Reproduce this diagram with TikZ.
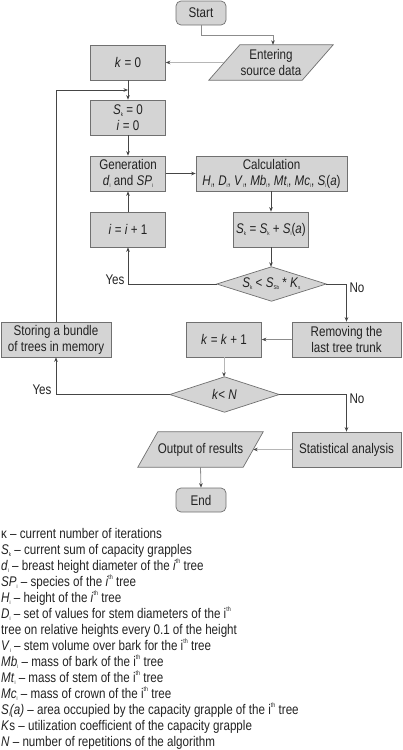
\documentclass[tikz,border=0pt]{standalone}
\usepackage{fontspec}
\setmainfont{Liberation Sans}[FakeStretch=0.83]
\usetikzlibrary{arrows.meta,backgrounds,calc}
\definecolor{boxfill}{HTML}{D4D4D4}
\definecolor{boxline}{HTML}{707070}
\definecolor{darkline}{HTML}{454545}
\definecolor{midline}{HTML}{8C8C8C}
\definecolor{lightline}{HTML}{B6B6B6}
\definecolor{txt}{HTML}{222222}
\newcommand{\sbs}[1]{\raisebox{-0.3ex}{\fontsize{5.5}{5.5}\selectfont #1}}
\newcommand{\ssp}[1]{\raisebox{0.9ex}{\fontsize{6.5}{6.5}\selectfont #1}}
\begin{document}
\begin{tikzpicture}[x=1pt,y=-1pt,
  every node/.style={font=\fontsize{14}{16}\selectfont, text=txt, inner sep=0pt},
  proc/.style={draw=boxline, fill=boxfill, line width=0.7pt, minimum width=75pt, minimum height=35pt, align=center},
  term/.style={proc, rounded corners=5pt, minimum width=50pt, minimum height=24pt},
  dectext/.style={minimum width=109pt, minimum height=34pt, align=center},
  iotext/.style={minimum height=35pt, align=center},
  io/.style={draw=boxline, fill=boxfill, line width=0.7pt},
  arr/.style={line width=0.8pt, draw=darkline, -{Stealth[length=4.5pt,width=3.6pt,color=darkline]}},
  marr/.style={arr, draw=midline},
  larr/.style={arr, draw=lightline},
  lbl/.style={anchor=center},
  leg/.style={anchor=base west}
]
\useasboundingbox (0,0) rectangle (402,750);

% nodes
\node[term] (start) at (201,13) {Start};
\node[iotext, minimum width=93pt] (enter) at (271,62.5) {Entering\\source data};
\node[proc] (k0) at (128,62.5) {\textit{k} = 0};
\node[proc] (sk0) at (128,117.5) {\textit{S}\sbs{k} = 0\\\textit{i} = 0};
\node[proc] (gen) at (128,173.5) {Generation\\\textit{d}\sbs{i} and \textit{SP}\sbs{i}};
\node[proc, minimum width=151pt] (calc) at (271.5,173.5) {Calculation\\\textit{H}\sbs{i}, \textit{D}\sbs{i}, \textit{V}\sbs{i}, \textit{Mb}\sbs{i}, \textit{Mt}\sbs{i}, \textit{Mc}\sbs{i}, \textit{S}\sbs{i}(\textit{a})};
\node[proc] (ii) at (128,229.5) {\textit{i} = \textit{i} + 1};
\node[proc] (sksum) at (271,229.5) {\textit{S}\sbs{k} = \textit{S}\sbs{k} + \textit{S}\sbs{i}(\textit{a})};
\node[dectext] (d1) at (271.5,284) {\textit{S}\sbs{k} < \textit{S}\sbs{Sb} * \textit{K}\sbs{s}};
\node[proc, minimum width=109pt] (remove) at (346.5,339.5) {Removing the\\last tree trunk};
\node[proc] (kk) at (224,339.5) {\textit{k} = \textit{k} + 1};
\node[proc, minimum width=110pt] (store) at (56,339.5) {Storing a bundle\\of trees in memory};
\node[dectext, minimum height=35pt] (d2) at (224.5,394.5) {\textit{k}< \textit{N}};
\node[proc, minimum width=109pt] (stat) at (346.5,449.5) {Statistical analysis};
\node[iotext, minimum width=105pt] (out) at (200.5,449.5) {Output of results};
\node[term] (end) at (201,500) {End};

\begin{scope}[on background layer]
  \path[io] ($(enter.north west)+(15.5,0)$) -- ($(enter.north east)+(15.5,0)$) -- ($(enter.south east)+(-15.5,0)$) -- ($(enter.south west)+(-15.5,0)$) -- cycle;
  \path[io] ($(out.north west)+(10,0)$) -- ($(out.north east)+(10,0)$) -- ($(out.south east)+(-10,0)$) -- ($(out.south west)+(-10,0)$) -- cycle;
  \path[io] (d1.north) -- (d1.east) -- (d1.south) -- (d1.west) -- cycle;
  \path[io] (d2.north) -- (d2.east) -- (d2.south) -- (d2.west) -- cycle;
\end{scope}

% labels
\node[lbl] (y1) at (115,280) {Yes};
\node[lbl] (n1) at (357,288) {No};
\node[lbl] (y2) at (42,390) {Yes};
\node[lbl] (n2) at (357,399) {No};

% connectors
\coordinate (lp) at (128,90);
\draw[marr] (start.south) -- ++(0,10) -| ($(enter.north)+(2,0)$);
\draw[larr] (enter.west) -- (k0.east);
\draw[arr] (k0.south) -- (sk0.north);
\draw[arr] (store.north) |- (lp);
\draw[arr] (sk0.south) -- (gen.north);
\draw[arr] (gen.east) -- (calc.west);
\draw[arr] (sksum.north |- calc.south) -- (sksum.north);
\draw[arr] (ii.north) -- (gen.south);
\draw[arr] (sksum.south) -- (sksum.south |- d1.north);
\draw[arr] (d1.west) -| (ii.south);
\draw[arr] (d1.east) -| (remove.north);
\draw[marr] (remove.west) -- (kk.east);
\draw[larr] (kk.south) -- (kk.south |- d2.north);
\draw[arr] (d2.west) -| (store.south);
\draw[arr] (d2.east) -| (stat.north);
\draw[larr] (stat.west) -- (out.east);
\draw[marr] (out.south) -- (end.north);

% legend
\node[leg] (l1) at (1,538) {κ – current number of iterations};
\node[leg] (l2) at (1,554) {\textit{S}\sbs{k} – current sum of capacity grapples};
\node[leg] (l3) at (1,570) {\textit{d}\sbs{i} – breast height diameter of the \textit{i}\ssp{th} tree};
\node[leg] (l4) at (1,586) {\textit{SP}\sbs{i} – species of the \textit{i}\ssp{th} tree};
\node[leg] (l5) at (1,602) {\textit{H}\sbs{i} – height of the \textit{i}\ssp{th} tree};
\node[leg] (l6) at (1,618) {\textit{D}\sbs{i} – set of values for stem diameters of the i\ssp{th}};
\node[leg] (l7) at (1,634) {tree on relative heights every 0.1 of the height};
\node[leg] (l8) at (1,650) {\textit{V}\sbs{i} – stem volume over bark for the i\ssp{th} tree};
\node[leg] (l9) at (1,666) {\textit{Mb}\sbs{i} – mass of bark of the i\ssp{th} tree};
\node[leg] (l10) at (1,682) {\textit{Mt}\sbs{i} – mass of stem of the i\ssp{th} tree};
\node[leg] (l11) at (1,698) {\textit{Mc}\sbs{i} – mass of crown of the i\ssp{th} tree};
\node[leg] (l12) at (1,714) {\textit{S}\sbs{i}\textit{(a)} – area occupied by the capacity grapple of the i\ssp{th} tree};
\node[leg] (l13) at (1,730) {\textit{K}s – utilization coefficient of the capacity grapple};
\node[leg] (l14) at (1,746) {\textit{N} – number of repetitions of the algorithm};
\end{tikzpicture}
\end{document}
